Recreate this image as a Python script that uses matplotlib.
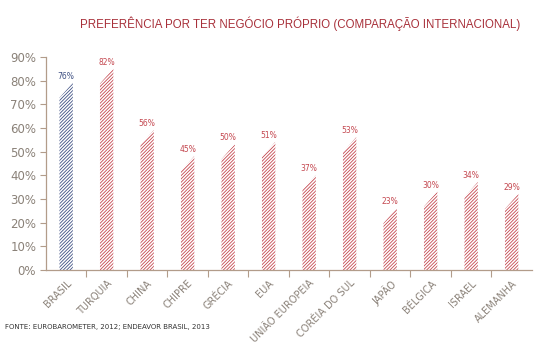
import matplotlib
matplotlib.use('Agg')
import matplotlib.pyplot as plt
from matplotlib.patches import Polygon

# dados do grafico
paises = ['BRASIL', 'TURQUIA', 'CHINA', 'CHIPRE', 'GRÉCIA', 'EUA', 'UNIÃO EUROPEIA',
          'CORÉIA DO SUL', 'JAPÃO', 'BÉLGICA', 'ISRAEL', 'ALEMANHA']
valores = [76, 82, 56, 45, 50, 51, 37, 53, 23, 30, 34, 29]
rotulos = ['76%', '82%', '56%', '45%', '50%', '51%', '37%', '53%', '23%', '30%', '34%', '29%']
yticks = [0, 10, 20, 30, 40, 50, 60, 70, 80, 90]

azul = '#3d4f82'
vermelho = '#c4474f'
cinza = '#8a8178'
eixo = '#b29c8a'

plt.rcParams['hatch.linewidth'] = 0.6

fig = plt.figure(figsize=(5.4, 3.59), dpi=100)
ax = fig.add_axes([0.085, 0.248, 0.9, 0.593])

largura = 0.33
inclinacao = 3.2  # topo cortado em diagonal

for i, v in enumerate(valores):
    cor = azul if i == 0 else vermelho
    pts = [(i - largura / 2, 0), (i + largura / 2, 0),
           (i + largura / 2, v + inclinacao), (i - largura / 2, v - inclinacao)]
    p = Polygon(pts, closed=True, facecolor='none', edgecolor=cor,
                linewidth=0, hatch='/' * 10)
    ax.add_patch(p)
    ax.text(i, v + 4, rotulos[i], ha='center', va='bottom', fontsize=5.5, color=cor)

ax.set_xlim(-0.5, len(paises) - 0.5)
ax.set_ylim(0, 90)

ax.set_yticks(yticks)
ax.set_yticklabels([f'{t}%' for t in yticks], fontsize=8.5, color=cinza)
ax.tick_params(axis='y', direction='out', length=4, width=0.8, color=eixo, pad=3)

ax.set_xticks(range(len(paises)))
ax.set_xticklabels(paises, rotation=45, ha='right', rotation_mode='anchor',
                   fontsize=7, color=cinza)
ax.tick_params(axis='x', which='major', length=0, pad=6)
ax.set_xticks([i + 0.5 for i in range(len(paises) - 1)], minor=True)
ax.tick_params(axis='x', which='minor', direction='out', length=5, width=0.8, color=eixo)

for lado in ['top', 'right']:
    ax.spines[lado].set_visible(False)
for lado in ['left', 'bottom']:
    ax.spines[lado].set_color(eixo)
    ax.spines[lado].set_linewidth(0.9)

fig.text(0.555, 0.935, 'PREFERÊNCIA POR TER NEGÓCIO PRÓPRIO (COMPARAÇÃO INTERNACIONAL)',
         ha='center', va='center', fontsize=8.3, color='#a8303a', family='Liberation Sans')
fig.text(0.01, 0.088, 'FONTE: EUROBAROMETER, 2012; ENDEAVOR BRASIL, 2013',
         ha='left', va='center', fontsize=5, color='#333333')

fig.savefig('out.png', dpi=100)
